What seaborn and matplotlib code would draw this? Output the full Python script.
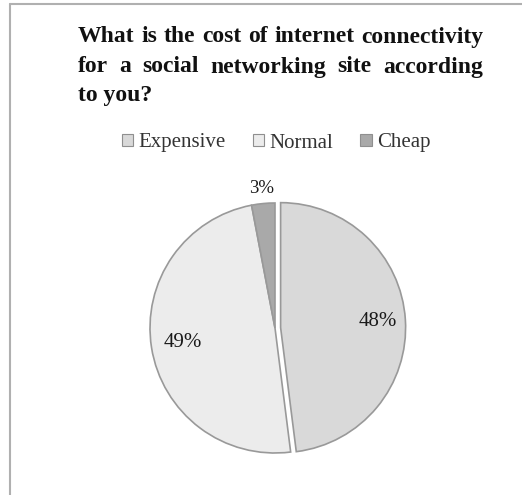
import matplotlib
matplotlib.use("Agg")
import matplotlib.pyplot as plt
import matplotlib.patches as mpatches
from matplotlib.lines import Line2D
import numpy as np
import seaborn as sns

categories = ["Expensive", "Normal", "Cheap"]
shares = [48, 49, 3]
pct_labels = ["48%", "49%", "3%"]
colors = ["#d9d9d9", "#ececec", "#a9a9a9"]

title_lines = [
    "What is the cost of internet connectivity",
    "for a social networking site according",
    "to you?",
]

sns.set_style("white")
plt.rcParams["font.family"] = "Liberation Serif"

W, H = 522, 495
fig = plt.figure(figsize=(W / 100, H / 100), dpi=100)
fig.patch.set_facecolor("white")

# frame lines (top and left only, as in the source image)
fig.add_artist(Line2D([10 / W, 1], [1 - 4 / H, 1 - 4 / H], color="#b0b0b0", lw=1.5))
fig.add_artist(Line2D([10 / W, 10 / W], [0, 1 - 4 / H], color="#b0b0b0", lw=1.5))

# pie axes: centre at (275, 328) px, radius 125 px
cx, cy, r = 275, 328, 125
half = 150
ax = fig.add_axes([(cx - half) / W, (H - cy - half) / H, 2 * half / W, 2 * half / H])

wedges, texts = ax.pie(
    shares,
    colors=colors,
    startangle=90,
    counterclock=False,
    explode=[0.045, 0, 0],
    wedgeprops=dict(edgecolor="#999999", linewidth=1.2),
)
ax.set_xlim(-half / r, half / r)
ax.set_ylim(-half / r, half / r)
ax.axis("off")

# percentage labels
dists = [0.78, 0.75, 1.12]
sizes = [15, 15, 13.5]
for w, lab, d, fs in zip(wedges, pct_labels, dists, sizes):
    ang = np.deg2rad((w.theta1 + w.theta2) / 2)
    cxw, cyw = w.center
    ax.text(cxw + d * np.cos(ang), cyw + d * np.sin(ang), lab,
            ha="center", va="center", fontsize=fs, color="#1a1a1a")

# title, justified lines
fig.canvas.draw()
renderer = fig.canvas.get_renderer()
left, right = 78, 483
ys = [37, 67, 96]
tfs = 17
for i, (line, y) in enumerate(zip(title_lines, ys)):
    words = line.split()
    if i < len(title_lines) - 1:
        tmp = [fig.text(0, 0, wd, fontsize=tfs, fontweight="bold") for wd in words]
        widths = [t.get_window_extent(renderer).width for t in tmp]
        for t in tmp:
            t.remove()
        gap = (right - left - sum(widths)) / (len(words) - 1)
        x = left
        for wd, wv in zip(words, widths):
            fig.text(x / W, 1 - y / H, wd, fontsize=tfs, fontweight="bold",
                     ha="left", va="center", color="#111111")
            x += wv + gap
    else:
        fig.text(left / W, 1 - y / H, line, fontsize=tfs, fontweight="bold",
                 ha="left", va="center", color="#111111")

# legend
handles = [mpatches.Patch(facecolor=c, edgecolor="#8f8f8f", linewidth=0.8) for c in colors]
fig.legend(handles, categories, loc="center", bbox_to_anchor=(276 / W, 1 - 143 / H),
           ncol=3, frameon=False, fontsize=15, handlelength=0.55, handleheight=0.55,
           handletextpad=0.25, columnspacing=1.3, labelcolor="#333333")

fig.savefig("out.png", dpi=100, facecolor="white")
